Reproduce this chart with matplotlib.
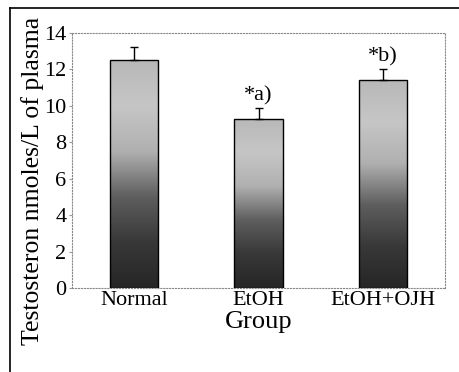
import numpy as np
import matplotlib.pyplot as plt
from matplotlib.lines import Line2D

groups = ['Normal', 'EtOH', 'EtOH+OJH']
testosterone = [12.5, 9.3, 11.4]
sem = [0.75, 0.6, 0.65]
marks = ['', '*a)', '*b)']

plt.rcParams['font.family'] = ['Liberation Serif', 'DejaVu Serif']

fig = plt.figure(figsize=(4.6, 3.72), dpi=100)
ax = fig.add_axes([72 / 460, 1 - 288 / 372, (445 - 72) / 460, (288 - 33) / 372])

# light top -> dark bottom gradient used inside every bar
grad = np.linspace(0, 1, 256).reshape(-1, 1)
cmap = plt.matplotlib.colors.LinearSegmentedColormap.from_list(
    'bar', ['#262626', '#383838', '#5e5e5e', '#b0b0b0', '#c6c6c6', '#b8b8b8'])

x = np.arange(len(groups))
width = 0.39
bars = ax.bar(x, testosterone, width=width, color='none', edgecolor='black', linewidth=1.0, zorder=3)
for b in bars:
    x0, y0 = b.get_x(), b.get_y()
    im = ax.imshow(grad, extent=[x0, x0 + b.get_width(), y0, y0 + b.get_height()],
                   origin='lower', cmap=cmap, aspect='auto', zorder=2)
    im.set_clip_path(b)

ax.errorbar(x, testosterone, yerr=[[0] * 3, sem], fmt='none', ecolor='black',
            elinewidth=1.0, capsize=3, capthick=1.0, zorder=4)

for xi, v, e, m in zip(x, testosterone, sem, marks):
    if m:
        ax.text(xi, v + e + 0.1, m, ha='center', va='bottom', fontsize=16)

ax.set_xlim(-0.5, 2.5)
ax.set_ylim(0, 14)
ax.set_yticks(range(0, 15, 2))
ax.set_xticks(x)
ax.set_xticklabels(groups)
ax.tick_params(axis='both', labelsize=16, length=2, color='#999999', pad=2)
ax.tick_params(axis='x', length=0, pad=2)
for s in ax.spines.values():
    s.set_linestyle(':')
    s.set_color('#888888')
    s.set_linewidth(0.8)

ax.set_xlabel('Group', fontsize=19, labelpad=1)
ax.set_ylabel('Testosteron nmoles/L of plasma', fontsize=18.5)
ax.yaxis.label.set_va('center')
ax.yaxis.set_label_coords(-0.105, 0.42)

# black frame on the left and top of the figure
fig.add_artist(Line2D([10 / 460, 10 / 460], [0, 1 - 8 / 372], color='black', lw=1.2))
fig.add_artist(Line2D([10 / 460, 1], [1 - 8 / 372, 1 - 8 / 372], color='black', lw=1.2))

fig.savefig('out.png', dpi=100)
